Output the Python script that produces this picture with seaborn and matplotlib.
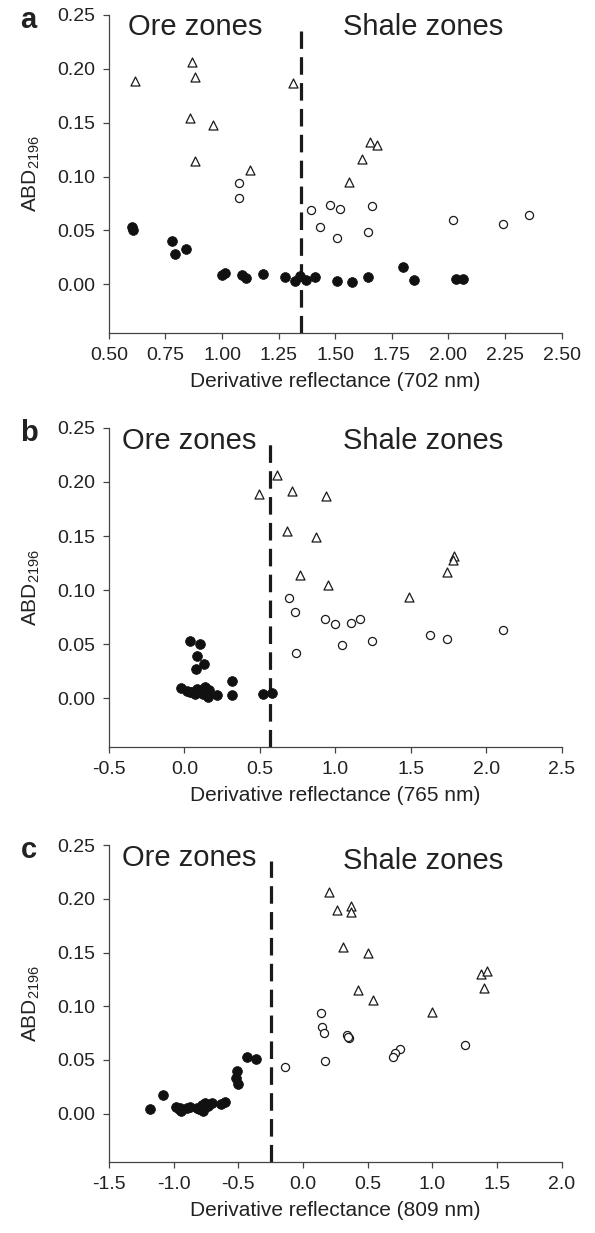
import matplotlib
matplotlib.use("Agg")
import matplotlib.pyplot as plt
import seaborn as sns
import pandas as pd
from matplotlib.ticker import FormatStrFormatter

# panel a (702 nm)
a_fill_x = [0.604, 0.607, 0.777, 0.793, 0.841, 1.001, 1.015, 1.087, 1.104, 1.179, 1.279,
            1.324, 1.346, 1.369, 1.409, 1.509, 1.575, 1.644, 1.801, 1.849, 2.034, 2.063]
a_fill_y = [0.053, 0.050, 0.040, 0.028, 0.033, 0.009, 0.011, 0.009, 0.006, 0.010, 0.007,
            0.003, 0.008, 0.004, 0.007, 0.003, 0.002, 0.007, 0.016, 0.004, 0.005, 0.005]
a_open_x = [1.073, 1.076, 1.391, 1.432, 1.478, 1.522, 1.506, 1.663, 1.645, 2.022, 2.242, 2.354]
a_open_y = [0.094, 0.080, 0.069, 0.053, 0.074, 0.070, 0.043, 0.073, 0.049, 0.060, 0.056, 0.064]
a_tri_x = [0.615, 0.867, 0.879, 0.859, 0.960, 0.879, 1.123, 1.315, 1.560, 1.654, 1.683, 1.619]
a_tri_y = [0.189, 0.206, 0.192, 0.154, 0.148, 0.114, 0.106, 0.187, 0.095, 0.132, 0.129, 0.116]

# panel b (765 nm)
b_fill_x = [0.036, 0.103, 0.081, 0.129, 0.076, -0.019, 0.015, 0.048, 0.070, 0.103, 0.136,
            0.125, 0.158, 0.164, 0.217, 0.319, 0.319, 0.522, 0.584, 0.040, 0.085, 0.150]
b_fill_y = [0.053, 0.050, 0.039, 0.032, 0.027, 0.010, 0.007, 0.006, 0.004, 0.008, 0.011,
            0.004, 0.001, 0.008, 0.003, 0.016, 0.003, 0.004, 0.005, 0.006, 0.009, 0.005]
b_open_x = [0.692, 0.736, 0.738, 0.935, 1.001, 1.045, 1.103, 1.167, 1.242, 1.626, 1.740, 2.114]
b_open_y = [0.093, 0.080, 0.042, 0.073, 0.069, 0.049, 0.070, 0.073, 0.053, 0.059, 0.055, 0.063]
b_tri_x = [0.493, 0.611, 0.714, 0.937, 0.681, 0.871, 0.769, 0.955, 1.787, 1.780, 1.740, 1.489]
b_tri_y = [0.189, 0.206, 0.192, 0.187, 0.155, 0.149, 0.114, 0.105, 0.132, 0.128, 0.117, 0.094]

# panel c (809 nm)
c_fill_x = [-1.183, -1.085, -0.982, -0.946, -0.900, -0.822, -0.784, -0.771, -0.733, -0.637, -0.604,
            -0.513, -0.521, -0.505, -0.434, -0.359, -0.960, -0.870, -0.800, -0.760, -0.700, -0.950]
c_fill_y = [0.004, 0.017, 0.006, 0.002, 0.005, 0.005, 0.008, 0.002, 0.007, 0.009, 0.011,
            0.040, 0.033, 0.028, 0.053, 0.051, 0.004, 0.006, 0.004, 0.010, 0.010, 0.005]
c_open_x = [-0.140, 0.138, 0.148, 0.164, 0.172, 0.337, 0.357, 0.350, 0.749, 0.710, 0.697, 1.249]
c_open_y = [0.043, 0.094, 0.081, 0.075, 0.049, 0.073, 0.070, 0.071, 0.060, 0.056, 0.053, 0.064]
c_tri_x = [0.203, 0.262, 0.368, 0.368, 0.311, 0.504, 0.427, 0.543, 0.999, 1.380, 1.423, 1.398]
c_tri_y = [0.206, 0.190, 0.193, 0.188, 0.155, 0.150, 0.115, 0.106, 0.095, 0.130, 0.133, 0.117]

panel_letters = ["a", "b", "c"]
wavelengths = ["702", "765", "809"]
boundaries = [1.35, 0.57, -0.25]
x_limits = [(0.5, 2.5), (-0.5, 2.5), (-1.5, 2.0)]
x_steps = [0.25, 0.5, 0.5]
x_formats = ["%.2f", "%.1f", "%.1f"]
y_ticks = [0.00, 0.05, 0.10, 0.15, 0.20, 0.25]

panels = [
    (a_fill_x, a_fill_y, a_open_x, a_open_y, a_tri_x, a_tri_y),
    (b_fill_x, b_fill_y, b_open_x, b_open_y, b_tri_x, b_tri_y),
    (c_fill_x, c_fill_y, c_open_x, c_open_y, c_tri_x, c_tri_y),
]

sns.set_style("ticks")
plt.rcParams['font.family'] = ['Liberation Sans', 'DejaVu Sans']
plt.rcParams['mathtext.default'] = 'regular'

ink = "#222222"
axis_col = "#444444"

fig = plt.figure(figsize=(5.95, 12.33), dpi=100)
# axes boxes in figure fractions (left, bottom, width, height)
boxes = [(0.183, 0.730, 0.761, 0.258),
         (0.183, 0.394, 0.761, 0.259),
         (0.183, 0.0576, 0.761, 0.257)]

for i, (fx, fy, ox, oy, tx, ty) in enumerate(panels):
    ax = fig.add_axes(boxes[i])
    ax.vlines(boundaries[i], -0.045, 0.235, colors="#1a1a1a", linewidth=2.3,
              linestyles=(0, (5.5, 2.6)), zorder=1)

    df_fill = pd.DataFrame({"x": fx, "y": fy})
    df_open = pd.DataFrame({"x": ox, "y": oy})
    df_tri = pd.DataFrame({"x": tx, "y": ty})
    sns.scatterplot(data=df_tri, x="x", y="y", marker="^", s=42, color="white",
                    edgecolor="#1a1a1a", linewidth=0.9, ax=ax, zorder=3)
    sns.scatterplot(data=df_open, x="x", y="y", marker="o", s=34, color="white",
                    edgecolor="#1a1a1a", linewidth=0.9, ax=ax, zorder=3)
    sns.scatterplot(data=df_fill, x="x", y="y", marker="o", s=50, color="#111111",
                    edgecolor="#111111", linewidth=0.5, ax=ax, zorder=4)

    lo, hi = x_limits[i]
    ax.set_xlim(lo, hi)
    ax.set_ylim(-0.045, 0.25)
    n = int(round((hi - lo) / x_steps[i]))
    ax.set_xticks([lo + k * x_steps[i] for k in range(n + 1)])
    ax.set_yticks(y_ticks)
    ax.xaxis.set_major_formatter(FormatStrFormatter(x_formats[i]))
    ax.yaxis.set_major_formatter(FormatStrFormatter("%.2f"))
    ax.tick_params(axis="both", direction="out", length=4, width=0.9,
                   colors=axis_col, labelcolor=ink, labelsize=14, pad=6)

    for side in ["top", "right"]:
        ax.spines[side].set_visible(False)
    for side in ["left", "bottom"]:
        ax.spines[side].set_color(axis_col)
        ax.spines[side].set_linewidth(0.9)

    ax.set_xlabel(f"Derivative reflectance ({wavelengths[i]} nm)", fontsize=15,
                  color=ink, labelpad=6)
    ax.set_ylabel("ABD$_{2196}$", fontsize=15, color=ink, labelpad=11)

    ax.text(0.03 if i else 0.042, 0.935, "Ore zones", transform=ax.transAxes,
            fontsize=21, color=ink, va="baseline", ha="left")
    ax.text(0.516, 0.935 if i < 2 else 0.923, "Shale zones", transform=ax.transAxes,
            fontsize=21, color=ink, va="baseline", ha="left")
    ax.text(-0.195, 0.96, panel_letters[i], transform=ax.transAxes,
            fontsize=21, fontweight="bold", color=ink, va="baseline", ha="left")

fig.savefig("out.png", dpi=100)
